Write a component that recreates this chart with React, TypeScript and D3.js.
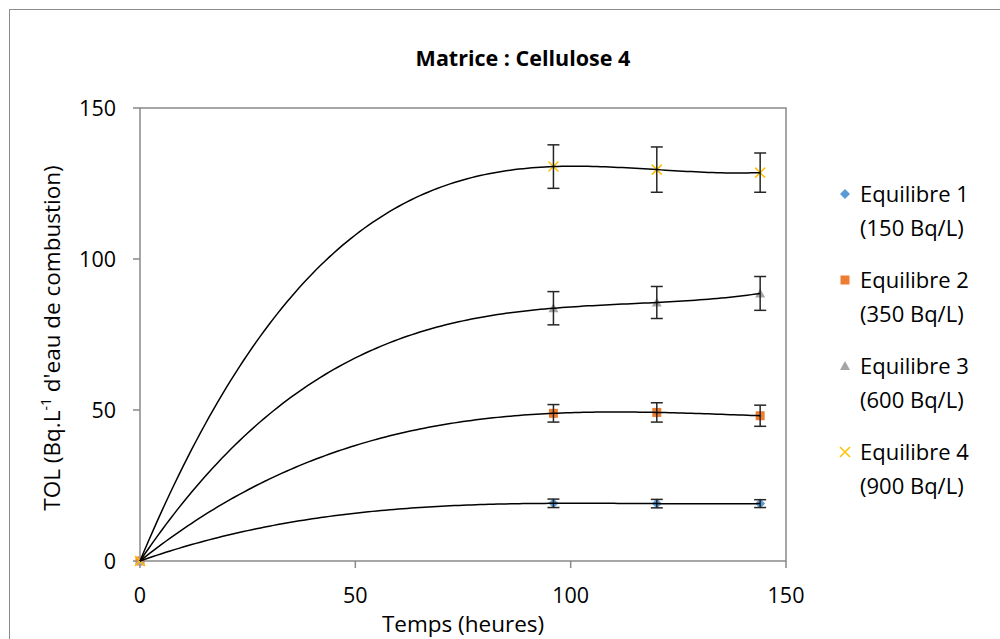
import React from "react";
import * as d3 from "d3";

const hours = [0, 96, 120, 144];
const seriesNames = ["Equilibre 1", "Equilibre 2", "Equilibre 3", "Equilibre 4"];
const seriesSub = ["(150 Bq/L)", "(350 Bq/L)", "(600 Bq/L)", "(900 Bq/L)"];
const eq1 = [0, 19.1, 19.0, 19.0];
const eq2 = [0, 48.9, 49.2, 48.1];
const eq3 = [0, 83.7, 85.6, 88.6];
const eq4 = [0, 130.6, 129.6, 128.6];
const err1 = [0, 1.4, 1.4, 1.3];
const err2 = [0, 2.9, 3.2, 3.5];
const err3 = [0, 5.5, 5.3, 5.6];
const err4 = [0, 7.2, 7.5, 6.5];
const colors = ["#5B9BD5", "#ED7D31", "#A5A5A5", "#FFC000"];
const xTicks = [0, 50, 100, 150];
const yTicks = [0, 50, 100, 150];

const values = [eq1, eq2, eq3, eq4];
const errors = [err1, err2, err3, err4];

// cubic polynomial trendline (order 3) fitted through the data
function polyFit(xs: number[], ys: number[], order: number): number[] {
  const n = order + 1;
  const A: number[][] = [];
  for (let r = 0; r < n; r++) {
    const row: number[] = [];
    for (let c = 0; c < n; c++) {
      let s = 0;
      for (let i = 0; i < xs.length; i++) s += Math.pow(xs[i], r + c);
      row.push(s);
    }
    let b = 0;
    for (let i = 0; i < xs.length; i++) b += ys[i] * Math.pow(xs[i], r);
    row.push(b);
    A.push(row);
  }
  for (let i = 0; i < n; i++) {
    let p = i;
    for (let k = i + 1; k < n; k++) if (Math.abs(A[k][i]) > Math.abs(A[p][i])) p = k;
    [A[i], A[p]] = [A[p], A[i]];
    for (let k = i + 1; k < n; k++) {
      const f = A[k][i] / A[i][i];
      for (let j = i; j <= n; j++) A[k][j] -= f * A[i][j];
    }
  }
  const x = new Array(n).fill(0);
  for (let i = n - 1; i >= 0; i--) {
    let s = A[i][n];
    for (let j = i + 1; j < n; j++) s -= A[i][j] * x[j];
    x[i] = s / A[i][i];
  }
  return x;
}

const FONT = "'Open Sans', 'DejaVu Sans', sans-serif";

export default function App() {
  const W = 1000, H = 639;
  const x = d3.scaleLinear().domain([0, 150]).range([140, 786]);
  const y = d3.scaleLinear().domain([0, 150]).range([561, 108]);
  const line = d3.line<[number, number]>().x(d => x(d[0])).y(d => y(d[1]));
  const samples = d3.range(0, 144.001, 1);

  const marker = (s: number, cx: number, cy: number, key: string) => {
    const c = colors[s];
    if (s === 0) {
      const r = 5;
      return <path key={key} d={`M${cx},${cy - r}L${cx + r},${cy}L${cx},${cy + r}L${cx - r},${cy}Z`} fill={c} />;
    }
    if (s === 1) return <rect key={key} x={cx - 4.5} y={cy - 4.5} width={9} height={9} fill={c} />;
    if (s === 2) return <path key={key} d={`M${cx},${cy - 5}L${cx + 5},${cy + 4}L${cx - 5},${cy + 4}Z`} fill={c} />;
    const r = 5;
    return <path key={key} d={`M${cx - r},${cy - r}L${cx + r},${cy + r}M${cx + r},${cy - r}L${cx - r},${cy + r}`} stroke={c} strokeWidth={1.5} fill="none" />;
  };

  return (
    <svg width={W} height={H} style={{ position: "absolute", left: 0, top: 0, background: "#fff" }} fontFamily={FONT}>
      <rect x={9.5} y={9.5} width={1000} height={700} fill="#fff" stroke="#8c8c8c" strokeWidth={1} />
      <text x={523} y={58} dy="0.35em" textAnchor="middle" fontWeight="bold" fontSize={21.5} fill="#000">Matrice : Cellulose 4</text>
      {/* plot box */}
      <rect x={x(0)} y={y(150)} width={x(150) - x(0)} height={y(0) - y(150)} fill="none" stroke="#898989" strokeWidth={1.5} />
      {yTicks.map(t => (
        <g key={"y" + t}>
          <line x1={x(0) - 7} x2={x(0)} y1={y(t)} y2={y(t)} stroke="#898989" strokeWidth={1.5} />
          <text x={116} y={y(t)} dy="0.35em" textAnchor="end" fontSize={21.5} fill="#000">{t}</text>
        </g>
      ))}
      {xTicks.map(t => (
        <g key={"x" + t}>
          <line x1={x(t)} x2={x(t)} y1={y(0)} y2={y(0) + 7} stroke="#898989" strokeWidth={1.5} />
          <text x={x(t)} y={595} dy="0.35em" textAnchor="middle" fontSize={21.5} fill="#000">{t}</text>
        </g>
      ))}
      <text x={463} y={624} dy="0.35em" textAnchor="middle" fontSize={22.5} fill="#000">Temps (heures)</text>
      <text transform="translate(52,338) rotate(-90)" textAnchor="middle" dy="0.35em" fontSize={22.5} fill="#000">
        TOL (Bq.L<tspan dy="-9" fontSize={14}>-1</tspan><tspan dy="9"> d'eau de combustion)</tspan>
      </text>
      {/* markers */}
      {values.map((vals, s) => hours.map((h, i) => marker(s, x(h), y(vals[i]), `m${s}-${i}`)))}
      {/* error bars */}
      {values.map((vals, s) => hours.map((h, i) => {
        const e = errors[s][i];
        if (e <= 0) return null;
        const cx = x(h), y1 = y(vals[i] + e), y2 = y(vals[i] - e);
        return (
          <g key={`e${s}-${i}`} stroke="#262626" strokeWidth={1.5}>
            <line x1={cx} x2={cx} y1={y1} y2={y2} />
            <line x1={cx - 6} x2={cx + 6} y1={y1} y2={y1} />
            <line x1={cx - 6} x2={cx + 6} y1={y2} y2={y2} />
          </g>
        );
      }))}
      {/* trendlines */}
      {values.map((vals, s) => {
        const c = polyFit(hours, vals, 3);
        const pts: [number, number][] = samples.map(t => [t, c[0] + c[1] * t + c[2] * t * t + c[3] * t * t * t]);
        return <path key={`t${s}`} d={line(pts) || ""} fill="none" stroke="#000" strokeWidth={1.5} />;
      })}
      {/* legend */}
      {seriesNames.map((n, s) => {
        const cy = 194 + s * 86;
        return (
          <g key={`l${s}`}>
            {marker(s, 845, cy, `lm${s}`)}
            <text x={860} y={cy} dy="0.35em" fontSize={22} fill="#000">{n}</text>
            <text x={860} y={cy + 34} dy="0.35em" fontSize={22} fill="#000">{seriesSub[s]}</text>
          </g>
        );
      })}
    </svg>
  );
}
